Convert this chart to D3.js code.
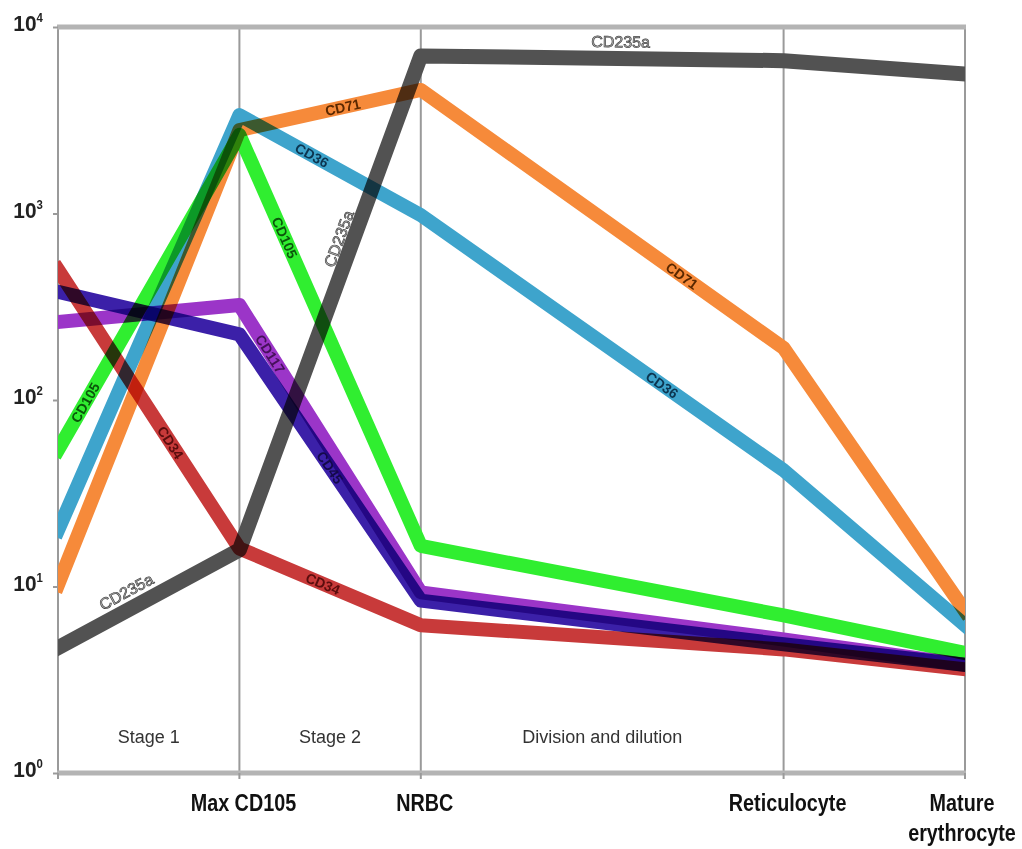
<!DOCTYPE html>
<html>
<head>
<meta charset="utf-8">
<script src="https://cdn.jsdelivr.net/npm/d3@7/dist/d3.min.js"></script>
<style>
  html, body { margin: 0; padding: 0; background: #fff; }
  svg { display: block; }
  .series { mix-blend-mode: multiply; }
</style>
</head>
<body>
<svg id="chart" width="1022" height="849"></svg>
<script>
// Differentiation stages along the x axis (position, label)
const stagePositions = [0, 1, 2, 4, 5];
const stageNames = ["", "Max CD105", "NRBC", "Reticulocyte", "Mature erythrocyte"];

// Phase captions inside the plot
const phasePositions = [0.5, 1.5, 3];
const phaseNames = ["Stage 1", "Stage 2", "Division and dilution"];

// Log-axis decades
const yTicks = [1, 10, 100, 1000, 10000];

// Marker expression at each stage
const cd34   = [500, 16, 6.2, 4.6, 3.6];
const cd45   = [380, 225, 8.4, 4.9, 3.8];
const cd117  = [262, 323, 9.3, 5.2, 3.8];
const cd105  = [54, 2640, 16.5, 7.0, 4.4];
const cd36   = [20, 3370, 980, 42, 6.2];
const cd71   = [10.2, 2800, 4600, 190, 7.4];
const cd235a = [4.7, 15.7, 7000, 6600, 5600];

const series = [
  { name: "CD34",   values: cd34,   color: "#c83a3a", text: "#5a0d0d" },
  { name: "CD45",   values: cd45,   color: "#3b20a8", text: "#140a4a" },
  { name: "CD117",  values: cd117,  color: "#9b35c8", text: "#45105a" },
  { name: "CD105",  values: cd105,  color: "#30ee30", text: "#0b560b" },
  { name: "CD36",   values: cd36,   color: "#3ea4cc", text: "#0c3550" },
  { name: "CD71",   values: cd71,   color: "#f68a3a", text: "#5a2800" },
  { name: "CD235a", values: cd235a, color: "#525252", text: "#bbbbbb" }
];

// Inline labels: series, segment index, fraction along segment, perpendicular offset
const labelSeries  = ["CD235a", "CD235a", "CD235a", "CD71", "CD71", "CD36", "CD36", "CD105", "CD105", "CD117", "CD34", "CD34", "CD45"];
const labelSegment = [0, 1, 2, 1, 2, 1, 2, 0, 1, 1, 0, 1, 1];
const labelFrac    = [0.42, 0.62, 0.55, 0.57, 0.72, 0.40, 0.665, 0.15, 0.25, 0.17, 0.62, 0.46, 0.5];
const labelOffset  = [-17, -14, -17, 0, 0, 0, 0, 0, 0, 0, 0, 0, 0];

const svg = d3.select("#chart");
const plotLeft = 58, plotRight = 965, plotTop = 27, plotBottom = 773;

const x = d3.scaleLinear().domain([0, 5]).range([plotLeft, plotRight]);
const y = d3.scaleLog().domain([1, 10000]).range([plotBottom, plotTop]);

svg.append("rect").attr("width", 1022).attr("height", 849).attr("fill", "#fff");

svg.append("defs").append("clipPath").attr("id", "plot-clip")
  .append("rect")
  .attr("x", plotLeft).attr("y", plotTop)
  .attr("width", plotRight - plotLeft).attr("height", plotBottom - plotTop);

// Vertical stage dividers
svg.append("g").selectAll("line")
  .data(stagePositions.slice(1, 4))
  .join("line")
  .attr("x1", d => x(d)).attr("x2", d => x(d))
  .attr("y1", plotTop).attr("y2", plotBottom)
  .attr("stroke", "#9a9a9a").attr("stroke-width", 2);

// Frame: thin sides, heavy top and bottom
svg.append("g").selectAll("line")
  .data([0, 5])
  .join("line")
  .attr("x1", d => x(d)).attr("x2", d => x(d))
  .attr("y1", plotTop).attr("y2", plotBottom)
  .attr("stroke", "#9a9a9a").attr("stroke-width", 2);
svg.append("g").selectAll("line")
  .data([plotTop, plotBottom])
  .join("line")
  .attr("x1", plotLeft - 1).attr("x2", plotRight + 1)
  .attr("y1", d => d).attr("y2", d => d)
  .attr("stroke", "#b4b4b4").attr("stroke-width", 5);

// Small ticks under the bottom frame at each stage
svg.append("g").selectAll("line")
  .data(stagePositions)
  .join("line")
  .attr("x1", d => x(d)).attr("x2", d => x(d))
  .attr("y1", plotBottom).attr("y2", plotBottom + 6)
  .attr("stroke", "#9a9a9a").attr("stroke-width", 2);

// Y axis
const yAxis = svg.append("g")
  .attr("transform", `translate(${plotLeft},0)`)
  .call(d3.axisLeft(y).tickValues(yTicks).tickSize(5).tickPadding(10).tickFormat(() => ""));
yAxis.select(".domain").remove();
yAxis.selectAll(".tick line").attr("stroke", "#9a9a9a").attr("stroke-width", 2);
yAxis.selectAll(".tick text").each(function(d) {
  const t = d3.select(this)
    .attr("font-family", "'Liberation Sans', Arial, sans-serif")
    .attr("font-weight", "bold")
    .attr("fill", "#222")
    .attr("text-anchor", "start")
    .attr("x", -47)
    .attr("dy", "0.36em")
    .attr("transform", "scale(0.95,1)");
  t.append("tspan").attr("font-size", 22).text("10");
  t.append("tspan").attr("font-size", 12).attr("dy", -9).text(Math.round(Math.log10(d)));
});

// Series lines
const line = d3.line()
  .x((d, i) => x(stagePositions[i]))
  .y(d => y(d));

svg.append("g")
  .attr("clip-path", "url(#plot-clip)")
  .selectAll("path")
  .data(series)
  .join("path")
  .attr("class", "series")
  .attr("d", d => line(d.values))
  .attr("fill", "none")
  .attr("stroke", d => d.color)
  .attr("stroke-width", d => d.name === "CD235a" ? 15 : 14)
  .attr("stroke-linejoin", "round")
  .attr("stroke-linecap", "square");

// Inline series labels, placed and rotated along their segment
const byName = Object.fromEntries(series.map(s => [s.name, s]));
const labels = labelSeries.map((name, k) => {
  const s = byName[name];
  const i = labelSegment[k], t = labelFrac[k];
  const x0 = x(stagePositions[i]), x1 = x(stagePositions[i + 1]);
  const y0 = y(s.values[i]), y1 = y(s.values[i + 1]);
  return {
    name, s,
    px: x0 + t * (x1 - x0),
    py: y0 + t * (y1 - y0),
    angle: Math.atan2(y1 - y0, x1 - x0) * 180 / Math.PI,
    off: labelOffset[k]
  };
});

svg.append("g").selectAll("text")
  .data(labels)
  .join("text")
  .attr("transform", d => `translate(${d.px},${d.py}) rotate(${d.angle}) translate(0,${d.off})`)
  .attr("text-anchor", "middle")
  .attr("dy", "0.36em")
  .attr("font-family", "'Liberation Sans', Arial, sans-serif")
  .attr("font-size", d => d.name === "CD235a" ? 16 : 14)
  .attr("font-weight", d => d.name === "CD235a" ? "normal" : "bold")
  .attr("fill", d => d.s.text)
  .attr("stroke", d => d.name === "CD235a" ? "#444" : "none")
  .attr("stroke-width", 0.7)
  .text(d => d.name);

// Phase captions
svg.append("g").selectAll("text")
  .data(phaseNames)
  .join("text")
  .attr("x", (d, i) => x(phasePositions[i]))
  .attr("y", 743)
  .attr("text-anchor", "middle")
  .attr("font-family", "'Liberation Sans', Arial, sans-serif")
  .attr("font-size", 18)
  .attr("fill", "#333")
  .text(d => d);

// Stage labels under the axis
const xl = svg.append("g").selectAll("g")
  .data(stagePositions.map((p, i) => ({ p, name: stageNames[i] })).filter(d => d.name))
  .join("g")
  .attr("transform", d => `translate(${Math.min(x(d.p) + 4, 962)},811) scale(0.86,1)`);
xl.each(function(d) {
  const words = d.name === "Mature erythrocyte" ? ["Mature", "erythrocyte"] : [d.name];
  d3.select(this).selectAll("text")
    .data(words)
    .join("text")
    .attr("x", 0)
    .attr("y", (w, j) => j * 30)
    .attr("text-anchor", "middle")
    .attr("font-family", "'Liberation Sans', Arial, sans-serif")
    .attr("font-weight", "bold")
    .attr("font-size", 23)
    .attr("fill", "#111")
    .text(w => w);
});
</script>
</body>
</html>
